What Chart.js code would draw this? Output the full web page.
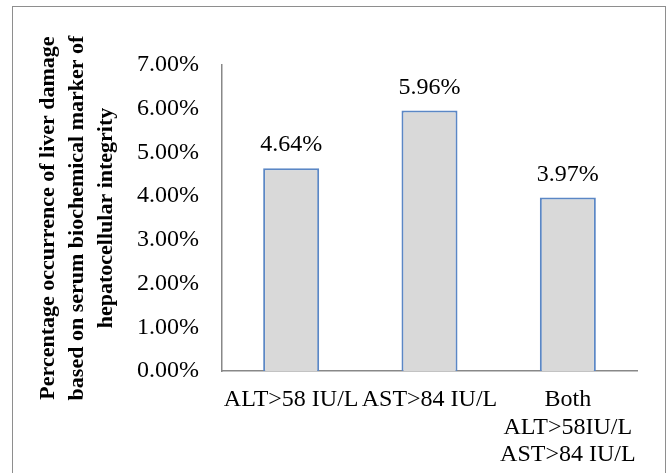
<!DOCTYPE html>
<html>
<head>
<meta charset="utf-8">
<script src="https://cdn.jsdelivr.net/npm/chart.js@4/dist/chart.umd.min.js"></script>
<style>
  html, body { margin: 0; padding: 0; background: #fff; overflow: hidden; }
  #frame {
    position: absolute; left: 12px; top: 6px; width: 652px; height: 520px;
    border: 1.5px solid #8e8e8e; border-bottom: none;
  }
  #wrap { position: absolute; left: 0; top: 0; width: 670px; height: 473px; }
</style>
</head>
<body>
<div id="frame"></div>
<div id="wrap"><canvas id="chart" width="670" height="473"></canvas></div>
<script>
const categories = ['ALT>58 IU/L', 'AST>84 IU/L', ['Both', 'ALT>58IU/L', 'AST>84 IU/L']];
const damagePct = [4.64, 5.96, 3.97];
const yTitle = ['Percentage occurrence of liver damage', 'based on serum biochemical marker of', 'hepatocellular integrity'];

const serif = "'Liberation Serif', 'Times New Roman', serif";
Chart.defaults.font.family = serif;
Chart.defaults.color = '#000';

// percentage text above each bar
const valueLabels = {
  id: 'valueLabels',
  afterDatasetsDraw(chart) {
    const ctx = chart.ctx;
    const meta = chart.getDatasetMeta(0);
    ctx.save();
    ctx.font = '24px ' + serif;
    ctx.fillStyle = '#000';
    ctx.textAlign = 'center';
    ctx.textBaseline = 'middle';
    meta.data.forEach((bar, i) => {
      ctx.fillText(damagePct[i].toFixed(2) + '%', bar.x, bar.y - 23);
    });
    ctx.restore();
  }
};

new Chart(document.getElementById('chart').getContext('2d'), {
  type: 'bar',
  data: {
    labels: categories,
    datasets: [{
      data: damagePct,
      backgroundColor: '#d9d9d9',
      borderColor: '#5b87c5',
      borderWidth: 2,
      categoryPercentage: 1,
      barPercentage: 0.405
    }]
  },
  options: {
    responsive: false,
    animation: false,
    layout: { padding: { left: 20, top: 65, right: 33, bottom: 0 } },
    plugins: { legend: { display: false }, tooltip: { enabled: false } },
    scales: {
      x: {
        grid: { display: false, drawTicks: false },
        border: { color: '#888', width: 1.5 },
        ticks: { font: { size: 24, lineHeight: 1.15 }, padding: 15, maxRotation: 0, minRotation: 0, autoSkip: false },
        afterFit(scale) { scale.height = 102; }
      },
      y: {
        min: 0,
        max: 7,
        grid: { display: false, drawTicks: false },
        border: { color: '#888', width: 1.5 },
        ticks: {
          stepSize: 1,
          padding: 23,
          font: { size: 24 },
          callback: v => v.toFixed(2) + '%'
        },
        title: {
          display: true,
          text: yTitle,
          font: { size: 22, weight: 'bold', lineHeight: 1.32 },
          padding: { top: 14, bottom: 0 }
        },
        afterFit(scale) { scale.width = 202; }
      }
    }
  },
  plugins: [valueLabels]
});
</script>
</body>
</html>
